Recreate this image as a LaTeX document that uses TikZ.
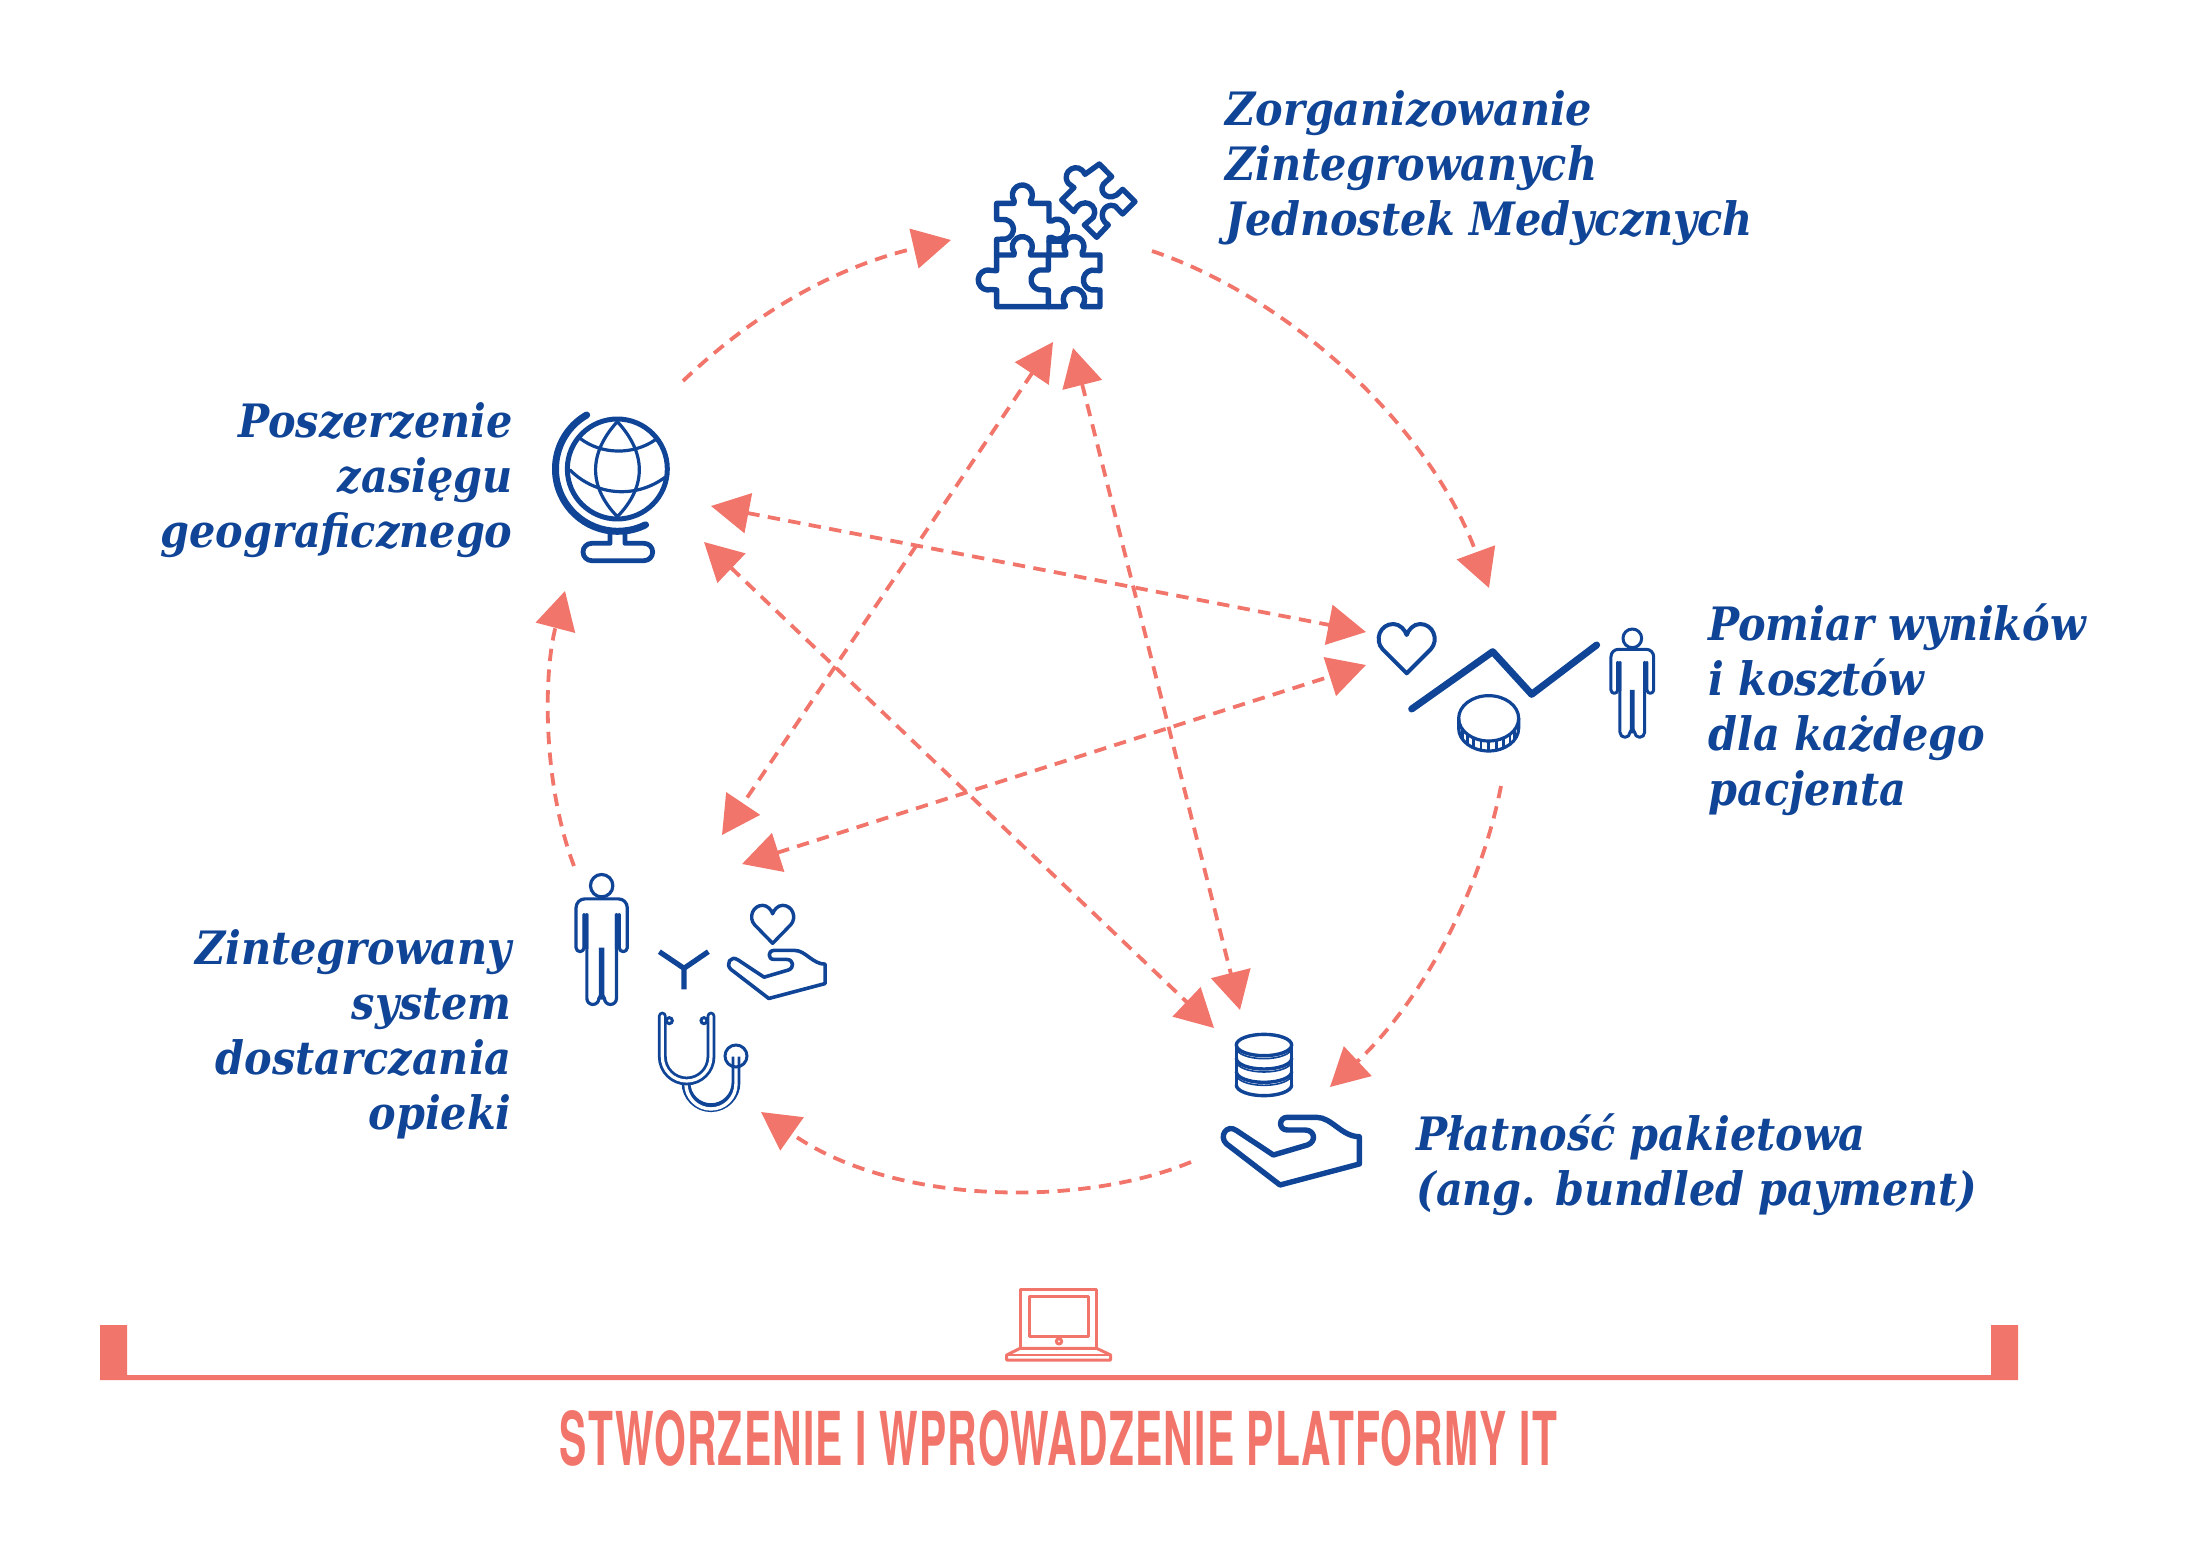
\documentclass[tikz,border=0pt]{standalone}
\usepackage{graphicx}
\usepackage{fontspec}
\usetikzlibrary{arrows.meta}
\setmainfont{DejaVu Serif Condensed}
\setsansfont{TeX Gyre Heros}[LetterSpace=3]
\definecolor{navy}{HTML}{0F4496}
\definecolor{salmon}{HTML}{F1756A}
\tikzset{
  lab/.style={font=\fontsize{23}{27.6}\selectfont\bfseries\itshape,text=navy,inner sep=0pt},
  ico/.style={draw=navy,line join=round,line cap=round},
  flow/.style={draw=salmon,line width=1.9pt,dash pattern=on 6.2pt off 4.2pt,-{Triangle[length=19pt,width=20pt,fill=salmon]}},
  both/.style={draw=salmon,line width=1.9pt,dash pattern=on 6.2pt off 4.2pt,{Triangle[length=19pt,width=20pt,fill=salmon]}-{Triangle[length=19pt,width=20pt,fill=salmon]}},
  lap/.style={draw=salmon,line width=1.5pt,line join=round},
  heartshape/.pic={
    \draw[ico] (110,220) -- (38,148) .. controls (12,120) and (30,72) .. (70,72) .. controls (90,72) and (105,90) .. (110,105) .. controls (115,90) and (130,72) .. (150,72) .. controls (190,72) and (208,120) .. (182,148) -- cycle;
  },
  handshape/.pic={
    \draw[ico] (262,292) -- (350,292) .. controls (395,292) and (425,350) .. (478,350) -- (478,432) -- (240,495) -- (80,372) .. controls (55,350) and (80,310) .. (110,332) -- (220,405) -- (322,375) .. controls (350,365) and (345,330) .. (315,330) -- (262,330) .. controls (235,330) and (235,292) .. (262,292) -- cycle;
  },
  personshape/.pic={
    \draw[ico] (0,0) circle[radius=28];
    \draw[ico] (-37,72) -- (-37,282) arc[start angle=180,end angle=0,radius=15] -- (0,270) -- (7,282) arc[start angle=180,end angle=0,radius=15] -- (37,72);
    \draw[ico] (44,72) -- (44,155) arc[start angle=180,end angle=0,radius=10] -- (64,55) arc[start angle=0,end angle=-90,radius=22] -- (-42,33) arc[start angle=270,end angle=180,radius=22] -- (-64,155) arc[start angle=180,end angle=0,radius=10] -- (-44,72);
    \fill[navy] (-47,70) rectangle (-33,158) (33,70) rectangle (47,158) (-7,155) rectangle (7,285);
  }
}
\begin{document}
\begin{tikzpicture}[x=.5pt,y=-.5pt]
\useasboundingbox (0,0) rectangle (2189,1558);

% labels
\node[lab,anchor=north west,align=left] (zjm) at (1225,90) {Zorganizowanie\\Zintegrowanych\\Jednostek Medycznych};
\node[lab,anchor=north east,align=right] (geo) at (513,402) {Poszerzenie\\zasięgu\\geograficznego};
\node[lab,anchor=north west,align=left] (pom) at (1708,603) {Pomiar wyników\\i kosztów\\dla każdego\\pacjenta};
\node[lab,anchor=north east,align=right] (sys) at (512,929) {Zintegrowany\\system\\dostarczania\\opieki};
\node[lab,anchor=north west,align=left] (pla) at (1416,1113) {Płatność pakietowa\\(ang. bundled payment)};

% puzzle
\begin{scope}[shift={(950,140)},scale=.3333,line width=2.7pt]
\draw[ico] (140,345) -- (140,298) -- (155,297.5) arc[start angle=100,end angle=-100,radius=30] -- (140,238.5) -- (140,190) -- (192,190) -- (192.4,182.2) arc[start angle=145,end angle=395,radius=30] -- (242,190) -- (297,190) -- (297,243) -- (305,243) arc[start angle=235,end angle=485,radius=30] -- (297,293) -- (297,345);
\draw[ico] (140,345) -- (192,345) -- (192.4,337.2) arc[start angle=145,end angle=395,radius=30] -- (242,345) -- (295,345) -- (295,390) -- (268,390) arc[start angle=-100,end angle=-260,radius=30] -- (295,450) -- (295,500) -- (140,500) -- (140,450) -- (124,448.5) arc[start angle=72,end angle=288,radius=30] -- (140,392) -- cycle;
\draw[ico] (295,345) -- (347,345) -- (347.4,337.2) arc[start angle=145,end angle=395,radius=30] -- (397,345) -- (450,345) -- (450,392) -- (425,390.5) arc[start angle=-100,end angle=-260,radius=30] -- (450,450) -- (450,500) -- (400,500) -- (397.2,497.7) arc[start angle=38,end angle=-218,radius=32] -- (345,500) -- (295,500);
\draw[ico] (297,305) -- (335,305);
\draw[ico] (448,72) -- (485,110) -- (468,125) .. controls (440,145) and (465,185) .. (500,165) -- (518,148) -- (555,185) -- (518,222) -- (495,198) .. controls (460,185) and (440,235) .. (475,255) -- (440,292) -- (403,255) -- (430,232) .. controls (450,195) and (395,165) .. (372,215) -- (335,180) -- (372,143) -- (355,130) .. controls (330,95) and (385,60) .. (405,103) -- cycle;
\end{scope}

% globe
\begin{scope}[shift={(530,390)},scale=.3333]
\draw[ico,line width=2.5pt] (262,237) circle[radius=150];
\draw[ico,line width=3.5pt] (170,75) arc[start angle=240,end angle=63.6,radius=187];
\draw[ico,line width=1.6pt] (262,95) .. controls (175,190) and (175,290) .. (262,380) .. controls (350,290) and (350,190) .. (262,95);
\draw[ico,line width=1.6pt] (150,145) .. controls (215,195) and (310,195) .. (375,150);
\draw[ico,line width=1.6pt] (120,240) .. controls (200,320) and (320,325) .. (405,262);
\draw[ico,line width=2.4pt] (240,430) -- (240,460) -- (185,460) arc[start angle=270,end angle=90,radius=26] -- (342,512) arc[start angle=90,end angle=-90,radius=26] -- (285,460) -- (285,430);
\end{scope}

% measurement
\begin{scope}[shift={(1370,600)},scale=.3333]
\pic[transform shape,line width=2pt] at (0,0) {heartshape};
\draw[ico,line width=3.5pt] (125,327) -- (368,155) -- (485,283) -- (680,135);
\draw[ico,line width=1.6pt] (356,355) ellipse[x radius=90,y radius=68];
\draw[ico,line width=1.6pt] (266,355) -- (266,385) arc[start angle=180,end angle=0,x radius=90,y radius=68] -- (446,355);
\foreach \a in {30,45,...,150}
  \draw[navy,line width=1.2pt] ({356+90*cos(\a)},{355+68*sin(\a)}) -- ({356+90*cos(\a)},{385+68*sin(\a)});
\pic[transform shape,line width=1.5pt] at (787,115) {personshape};
\end{scope}

% care
\begin{scope}[shift={(560,860)},scale=.3333]
\pic[transform shape,scale=1.2,line width=1.6pt] at (125,77) {personshape};
\draw[ico,line width=2.6pt,line cap=butt] (298,275) -- (372,325) -- (445,275) (372,325) -- (372,388);
\pic[transform shape,xscale=.75,yscale=.77,line width=1.7pt] at (555.5,80.6) {heartshape};
\pic[transform shape,scale=.71,line width=1.8pt] at (456,64) {handshape};
% stethoscope
\draw[navy,line width=4.4pt,line cap=butt] (378,668) arc[start angle=180,end angle=0,radius=75] -- (528,590);
\draw[white,line width=1.7pt,line cap=butt] (378,672) arc[start angle=180,end angle=0,radius=75] -- (528,588);
\draw[navy,line width=1.5pt] (528,588) circle[radius=33];
\draw[navy,line width=4.4pt,line cap=round,fill=none] (307,468) -- (307,590) arc[start angle=180,end angle=0,radius=73] -- (453,468);
\draw[white,line width=1.6pt,line cap=round] (307,468) -- (307,590) arc[start angle=180,end angle=0,radius=73] -- (453,468);
\draw[navy,line width=1.5pt] (328,482) circle[radius=9] (432,482) circle[radius=9];
\end{scope}

% payment
\begin{scope}[shift={(1200,1020)},scale=.3333]
\draw[ico,line width=1.7pt] (192,75) ellipse[x radius=83,y radius=32];
\draw[ico,line width=1.7pt] (109,75) -- (109,195) (275,75) -- (275,195);
\foreach \c in {115,155,195}
  \draw[ico,line width=1.7pt] (109,\c) arc[start angle=180,end angle=0,x radius=83,y radius=32];
\foreach \c in {84,124,164}
  \draw[ico,line width=.8pt] (109,\c) arc[start angle=180,end angle=0,x radius=83,y radius=32];
\pic[transform shape,line width=2.7pt] at (0,0) {handshape};
\end{scope}

% laptop
\begin{scope}[shift={(980,1280)},scale=.3333]
\draw[lap] (120,205) -- (120,28) -- (350,28) -- (350,205);
\draw[lap] (148,48) rectangle (325,168);
\draw[lap] (237,184) circle[radius=8];
\draw[lap] (120,205) -- (350,205) -- (392,225) -- (392,240) -- (80,240) -- (80,225) -- cycle;
\draw[lap,line width=1.1pt] (80,225) -- (392,225);
\end{scope}

% platform bracket
\fill[salmon] (100,1325) rectangle (127,1380) (100,1375) rectangle (2018,1380) (1991,1325) rectangle (2018,1380);
\node[inner sep=0pt,text=salmon] (it) at (1058.5,1438) {\resizebox{498.5pt}{27.5pt}{\sffamily\bfseries STWORZENIE I WPROWADZENIE PLATFORMY IT}};

% connector ends
\coordinate (gO) at (683,381);   \coordinate (zI) at (951,240);
\coordinate (zO) at (1152,251);  \coordinate (mI) at (1489,588);
\coordinate (mO) at (1501,786);  \coordinate (pI) at (1330,1087);
\coordinate (pO) at (1191,1162); \coordinate (sI) at (761,1112);
\coordinate (sO) at (574,866);   \coordinate (gI) at (565,591);
\coordinate (zA) at (1053,342);  \coordinate (sA) at (722,835);
\coordinate (zB) at (1073,348);  \coordinate (pB) at (1240,1010);
\coordinate (gB) at (704,542);   \coordinate (pC) at (1214,1028);
\coordinate (gC) at (711,506);   \coordinate (mC) at (1366,632);
\coordinate (sD) at (742,864);   \coordinate (mD) at (1366,665);

\draw[flow] (gO) .. controls (775,293) and (864,260) .. (zI);
\draw[flow] (zO) .. controls (1291,298) and (1430,427) .. (mI);
\draw[flow] (mO) .. controls (1480,894) and (1420,1003) .. (pI);
\draw[flow] (pO) .. controls (1083,1207) and (894,1206) .. (sI);
\draw[flow] (sO) .. controls (543,785) and (543,675) .. (gI);
\draw[both] (zA) -- (sA);
\draw[both] (zB) -- (pB);
\draw[both] (gB) -- (pC);
\draw[both] (gC) -- (mC);
\draw[both] (sD) -- (mD);
\end{tikzpicture}
\end{document}
